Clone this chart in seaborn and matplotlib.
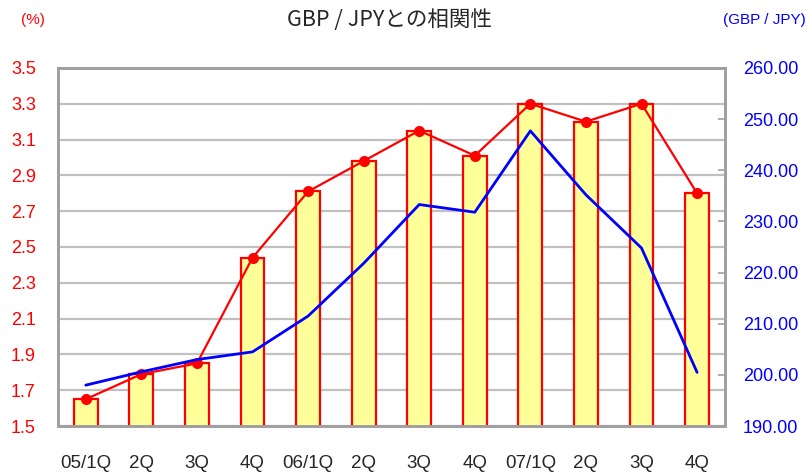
import numpy as np
import pandas as pd
import matplotlib
matplotlib.use("Agg")
import matplotlib.pyplot as plt
import seaborn as sns

# 四半期ごとのデータ
periods = ['05/1Q', '05/2Q', '05/3Q', '05/4Q', '06/1Q', '06/2Q', '06/3Q', '06/4Q',
           '07/1Q', '07/2Q', '07/3Q', '07/4Q']
tick_labels = ['05/1Q', '2Q', '3Q', '4Q', '06/1Q', '2Q', '3Q', '4Q', '07/1Q', '2Q', '3Q', '4Q']
rate_pct = [1.65, 1.79, 1.85, 2.44, 2.81, 2.98, 3.15, 3.01, 3.30, 3.20, 3.30, 2.80]
gbp_jpy = [198.0, 200.6, 203.0, 204.5, 211.5, 221.8, 233.3, 231.8, 247.7, 235.2, 224.8, 200.5]

df = pd.DataFrame({'period': periods, 'rate': rate_pct, 'gbpjpy': gbp_jpy})

sns.set_style("white")
plt.rcParams['font.family'] = ['Liberation Sans', 'Noto Sans CJK JP', 'DejaVu Sans']

fig = plt.figure(figsize=(8.09, 4.75), dpi=100)
ax = fig.add_axes([0.0717, 0.103, 0.8243, 0.754])

grid_c = '#C0C0C0'
spine_c = '#A0A0A0'

# 棒グラフ（左軸）
sns.barplot(data=df, x='period', y='rate', ax=ax, color='#FFFF99', width=0.43,
            edgecolor='#FF0000', linewidth=1.6, saturation=1, zorder=2)
# 折れ線（左軸）
sns.lineplot(data=df, x='period', y='rate', ax=ax, sort=False, color='#FF0000',
             linewidth=1.6, marker='o', markersize=8, markeredgewidth=0, zorder=3)

ax.set_ylim(1.5, 3.5)
ax.set_xlim(-0.5, 11.5)
ax.set_yticks(np.arange(1.5, 3.51, 0.2))
ax.set_yticklabels([f'{v:.1f}' for v in np.arange(1.5, 3.51, 0.2)], color='#FF0000', fontsize=13)
ax.yaxis.grid(True, color=grid_c, linewidth=1.6, zorder=0)
ax.set_axisbelow(True)
ax.tick_params(axis='y', length=0, pad=16)
ax.set_xticks(range(len(periods)))
ax.set_xticklabels(tick_labels, fontsize=13.5)
ax.set_xticks(np.arange(0.5, 11, 1), minor=True)
ax.tick_params(axis='x', which='major', length=0, pad=21)
ax.tick_params(axis='x', which='minor', direction='in', length=5, width=1.5, color=spine_c)
ax.set_xlabel('')
ax.set_ylabel('')

# 右軸：GBP/JPY
ax2 = ax.twinx()
sns.lineplot(data=df, x='period', y='gbpjpy', ax=ax2, sort=False, color='#0000FF',
             linewidth=2)
ax2.set_ylim(190, 260)
ax2.set_yticks(np.arange(190, 261, 10))
ax2.set_yticklabels([f'{v:.2f}' for v in np.arange(190, 261, 10)], color='#0000FF', fontsize=13)
ax2.tick_params(axis='y', direction='in', length=5, width=1.2, color=spine_c, pad=13)
ax2.set_ylabel('')
ax2.set_xlabel('')

for a in (ax, ax2):
    for s in a.spines.values():
        s.set_color(spine_c)
        s.set_linewidth(2)
        s.set_visible(True)

fig.text(0.481, 1 - 20 / 475, 'GBP / JPYとの相関性', ha='center', va='center', fontsize=15.5,
         family=['Noto Sans CJK JP', 'Liberation Sans'])
fig.text(33 / 809, 1 - 20 / 475, '(%)', ha='center', va='center', fontsize=11, color='#FF0000')
fig.text(764 / 809, 1 - 20 / 475, '(GBP / JPY)', ha='center', va='center', fontsize=11,
         color='#0000FF')

fig.savefig('out.png', dpi=100)
